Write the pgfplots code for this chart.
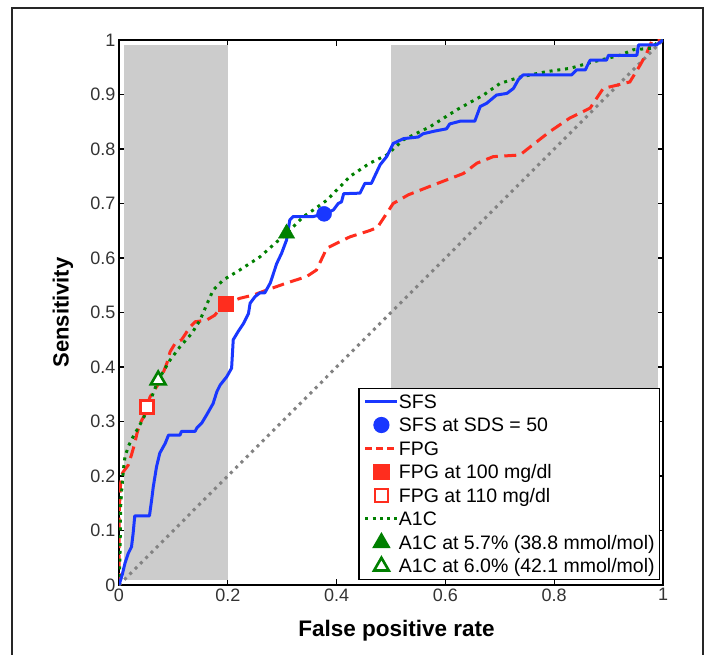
\documentclass[border=0pt]{standalone}
\usepackage{pgfplots}
\pgfplotsset{compat=1.18}
\usepackage{fontspec}
\setmainfont{Liberation Sans}

\definecolor{sfsblue}{RGB}{25,55,255}
\definecolor{fpgred}{RGB}{255,45,30}
\definecolor{a1cgreen}{RGB}{0,128,0}
\definecolor{shade}{RGB}{204,204,204}
\definecolor{diaggray}{RGB}{130,130,130}

\pgfplotsset{
  lineleg/.style={legend image code/.code={\draw[##1] (0pt,0pt) -- (32pt,0pt);}},
  markleg/.style={legend image code/.code={\path (0pt,0pt) (32pt,0pt); \draw[##1] plot coordinates {(16pt,0pt)};}},
}

\begin{document}
\begin{tikzpicture}
\useasboundingbox (0,0) rectangle (709pt,654pt);
\draw[line width=1.4pt, black!85] (12pt,-10pt) rectangle (703pt,646pt);
\begin{axis}[
    at={(119pt,69pt)}, anchor=south west,
    width=544pt, height=545pt, scale only axis,
    xmin=0, xmax=1, ymin=0, ymax=1,
    xtick={0,0.2,0.4,0.6,0.8,1},
    ytick={0,0.1,0.2,0.3,0.4,0.5,0.6,0.7,0.8,0.9,1},
    xtick pos=both, ytick pos=both,
    tick align=inside,
    major tick length=6pt,
    axis line style={line width=1.2pt},
    tick style={line width=1.2pt, black},
    /pgf/number format/assume math mode=true,
    tick label style={font=\fontsize{18}{20}\selectfont, text=black!80},
    xlabel={False positive rate},
    ylabel={Sensitivity},
    xlabel style={font=\fontsize{22.5}{24}\selectfont\bfseries, at={(axis description cs:0.51,-0.083)}, anchor=center},
    ylabel style={font=\fontsize{22}{24}\selectfont\bfseries, at={(axis description cs:-0.103,0.5)}, anchor=center},
    legend style={at={(0.995,0.009)}, anchor=south east, draw=black, line width=1.2pt,
        fill=white, font=\fontsize{19.5}{21}\selectfont,
        nodes={inner sep=0pt, text height=16pt, text depth=2.5pt},
        row sep=5pt, inner xsep=5pt, inner ysep=4pt,
        /tikz/every even column/.append style={column sep=5pt}},
    legend cell align=left,
]
% shaded bands
\addplot[fill=shade, draw=none, forget plot] coordinates {(0.01,0.01) (0.2,0.01) (0.2,0.99) (0.01,0.99)} --cycle;
\addplot[fill=shade, draw=none, forget plot] coordinates {(0.5,0.01) (0.99,0.01) (0.99,0.99) (0.5,0.99)} --cycle;
% chance line
\addplot[diaggray, line width=3pt, dash pattern=on 3pt off 4.5pt, forget plot] coordinates {(0,0) (1,1)};

% FPG
\addplot[fpgred, line width=3pt, dash pattern=on 12pt off 6.5pt, forget plot] coordinates {
(0,0) (0,0.12) (0.002,0.17) (0.004,0.2) (0.008,0.208) (0.017,0.22) (0.023,0.239)
(0.029,0.26) (0.033,0.278) (0.039,0.297) (0.047,0.312) (0.051,0.327) (0.057,0.345)
(0.075,0.373) (0.088,0.407) (0.094,0.428) (0.103,0.443) (0.115,0.45) (0.131,0.474)
(0.14,0.483) (0.161,0.486) (0.176,0.495) (0.189,0.511) (0.197,0.516) (0.222,0.526)
(0.247,0.532) (0.271,0.541) (0.308,0.554) (0.345,0.566) (0.363,0.578) (0.382,0.618)
(0.406,0.63) (0.425,0.639) (0.46,0.65) (0.475,0.656) (0.504,0.7) (0.532,0.716)
(0.578,0.734) (0.633,0.755) (0.658,0.774) (0.688,0.786) (0.737,0.789) (0.756,0.804)
(0.792,0.832) (0.829,0.857) (0.866,0.875) (0.89,0.911) (0.915,0.917) (0.939,0.923)
(0.958,0.954) (0.97,0.976) (0.979,0.997) (1,1)};

% A1C
\addplot[a1cgreen, line width=3pt, dash pattern=on 3pt off 4.8pt, forget plot] coordinates {
(0,0) (0.002,0.064) (0.003,0.144) (0.005,0.174) (0.008,0.211) (0.011,0.235) (0.017,0.254)
(0.026,0.272) (0.035,0.288) (0.045,0.306) (0.051,0.321) (0.072,0.376) (0.094,0.413)
(0.112,0.437) (0.134,0.462) (0.149,0.486) (0.161,0.514) (0.173,0.541) (0.192,0.56)
(0.222,0.578) (0.259,0.602) (0.287,0.627) (0.308,0.645) (0.339,0.676) (0.357,0.688)
(0.382,0.706) (0.425,0.75) (0.461,0.774) (0.492,0.789) (0.523,0.817) (0.572,0.841)
(0.621,0.872) (0.67,0.899) (0.7,0.92) (0.737,0.932) (0.786,0.942) (0.829,0.948)
(0.872,0.96) (0.921,0.972) (0.945,0.982) (0.979,0.985) (0.988,0.994) (1,1)};

% SFS
\addplot[sfsblue, line width=3pt, line join=round, forget plot] coordinates {
(0,0) (0.005,0.015) (0.011,0.04) (0.017,0.058) (0.023,0.07) (0.026,0.095) (0.029,0.127)
(0.056,0.127) (0.06,0.156) (0.063,0.18) (0.069,0.217) (0.075,0.242) (0.085,0.26)
(0.091,0.275) (0.112,0.275) (0.115,0.282) (0.14,0.282) (0.143,0.288) (0.152,0.297)
(0.161,0.312) (0.173,0.333) (0.18,0.355) (0.186,0.367) (0.198,0.382) (0.207,0.398)
(0.21,0.45) (0.219,0.465) (0.229,0.48) (0.238,0.498) (0.241,0.517) (0.25,0.529)
(0.259,0.536) (0.268,0.536) (0.278,0.554) (0.284,0.572) (0.29,0.59) (0.299,0.609)
(0.308,0.633) (0.314,0.67) (0.32,0.676) (0.357,0.676) (0.377,0.681) (0.394,0.688)
(0.403,0.7) (0.409,0.703) (0.413,0.718) (0.443,0.719) (0.452,0.737) (0.464,0.737)
(0.471,0.752) (0.48,0.771) (0.492,0.786) (0.504,0.81) (0.523,0.819) (0.55,0.822)
(0.559,0.828) (0.581,0.833) (0.602,0.837) (0.608,0.846) (0.627,0.851) (0.654,0.851)
(0.664,0.878) (0.676,0.884) (0.694,0.899) (0.713,0.902) (0.725,0.911) (0.734,0.927)
(0.743,0.936) (0.832,0.936) (0.841,0.945) (0.857,0.945) (0.866,0.963) (0.896,0.963)
(0.9,0.972) (0.952,0.972) (0.955,0.991) (0.988,0.991) (1,1)};

% operating points
\addplot[only marks, mark=*, mark size=7.5pt, sfsblue, forget plot] coordinates {(0.377,0.681)};
\addplot[only marks, mark=square*, mark size=7.5pt, fpgred, forget plot] coordinates {(0.197,0.516)};
\addplot[only marks, mark=square*, mark size=6.5pt, fpgred, mark options={fill=white, line width=2.6pt}, forget plot] coordinates {(0.051,0.327)};
\addplot[only marks, mark=triangle*, mark size=9.5pt, a1cgreen, forget plot] coordinates {(0.308,0.645)};
\addplot[only marks, mark=triangle*, mark size=8.5pt, a1cgreen, mark options={fill=white, line width=2.6pt}, forget plot] coordinates {(0.072,0.376)};

% legend
\addlegendimage{lineleg, sfsblue, line width=3pt}
\addlegendimage{markleg, only marks, mark=*, mark size=7.5pt, sfsblue}
\addlegendimage{lineleg, fpgred, line width=3pt, dash pattern=on 7pt off 4pt}
\addlegendimage{markleg, only marks, mark=square*, mark size=7.5pt, fpgred}
\addlegendimage{markleg, only marks, mark=square*, mark size=6.5pt, fpgred, mark options={fill=white, line width=2.6pt}}
\addlegendimage{lineleg, a1cgreen, line width=3pt, dash pattern=on 3pt off 4.2pt}
\addlegendimage{markleg, only marks, mark=triangle*, mark size=9.5pt, a1cgreen}
\addlegendimage{markleg, only marks, mark=triangle*, mark size=8.5pt, a1cgreen, mark options={fill=white, line width=2.6pt}}
\legend{SFS, SFS at SDS = 50, FPG, FPG at 100 mg/dl, FPG at 110 mg/dl, A1C, A1C at 5.7\% (38.8 mmol/mol), A1C at 6.0\% (42.1 mmol/mol)}
\end{axis}
\end{tikzpicture}
\end{document}
